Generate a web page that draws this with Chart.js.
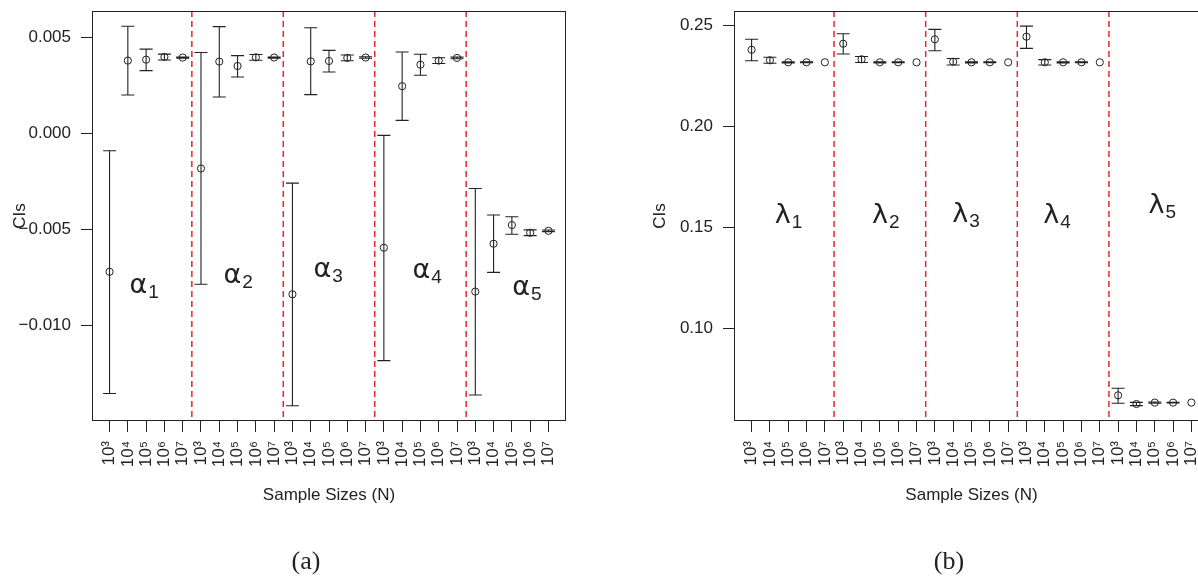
<!DOCTYPE html>
<html>
<head>
<meta charset="utf-8">
<script src="https://cdn.jsdelivr.net/npm/chart.js@4.4.1/dist/chart.umd.min.js"></script>
<style>
html, body { margin: 0; padding: 0; background: #fff; overflow: hidden; }
body { width: 1198px; height: 576px; position: relative; }
canvas { position: absolute; top: 0; }
#chartA { left: 0; }
#chartB { left: 620px; }
.caption { position: absolute; font-family: "Liberation Serif", "DejaVu Serif", serif; font-size: 26px; color: #222; transform: translate(-50%, -50%); }
</style>
</head>
<body>
<canvas id="chartA" width="600" height="576"></canvas>
<canvas id="chartB" width="620" height="576"></canvas>
<div class="caption" style="left:306px;top:561px">(a)</div>
<div class="caption" style="left:949px;top:561px">(b)</div>
<script>
// sample sizes repeated for each parameter block
const sampleSizes = ['10³', '10⁴', '10⁵', '10⁶', '10⁷'];
const xLabels = [].concat(sampleSizes, sampleSizes, sampleSizes, sampleSizes, sampleSizes);
const groupBreaks = [5.5, 10.5, 15.5, 20.5];

// (a) alpha estimates with CI bounds
const alphaEst = [
  -0.00719, 0.00379, 0.00384, 0.00398, 0.00395,
  -0.00182, 0.00374, 0.00351, 0.00396, 0.00395,
  -0.00836, 0.00375, 0.00377, 0.00393, 0.00395,
  -0.00594, 0.00246, 0.00358, 0.00379, 0.00393,
  -0.00822, -0.00573, -0.00476, -0.00516, -0.00506
];
const alphaLow = [
  -0.01352, 0.00200, 0.00327, 0.00382, 0.00392,
  -0.00784, 0.00190, 0.00294, 0.00381, 0.00392,
  -0.01416, 0.00202, 0.00320, 0.00378, 0.00391,
  -0.01181, 0.00068, 0.00303, 0.00364, 0.00389,
  -0.01360, -0.00722, -0.00524, -0.00531, -0.00510
];
const alphaHigh = [
  -0.00090, 0.00558, 0.00439, 0.00413, 0.00398,
  0.00421, 0.00556, 0.00405, 0.00411, 0.00398,
  -0.00258, 0.00550, 0.00432, 0.00408, 0.00399,
  -0.00010, 0.00424, 0.00412, 0.00394, 0.00397,
  -0.00286, -0.00424, -0.00433, -0.00501, -0.00502
];
const alphaTicks = [-0.010, -0.005, 0.000, 0.005];
const alphaRange = [-0.01495, 0.00637];
const alphaNames = [
  { t: 'α', s: '1', x: 2.09, y: -0.00829 },
  { t: 'α', s: '2', x: 7.23, y: -0.00777 },
  { t: 'α', s: '3', x: 12.15, y: -0.00746 },
  { t: 'α', s: '4', x: 17.56, y: -0.00751 },
  { t: 'α', s: '5', x: 23.02, y: -0.00840 }
];

// (b) lambda estimates with CI bounds
const lambdaEst = [
  0.2381, 0.2329, 0.2319, 0.2319, 0.2319,
  0.2411, 0.2334, 0.2319, 0.2319, 0.2319,
  0.2433, 0.2322, 0.2319, 0.2319, 0.2319,
  0.2446, 0.2319, 0.2319, 0.2319, 0.2319,
  0.0670, 0.0627, 0.0634, 0.0634, 0.0634
];
const lambdaLow = [
  0.2327, 0.2314, 0.2316, 0.2317, 0.2319,
  0.2360, 0.2318, 0.2316, 0.2317, 0.2319,
  0.2376, 0.2306, 0.2316, 0.2317, 0.2319,
  0.2388, 0.2306, 0.2316, 0.2317, 0.2319,
  0.0631, 0.0619, 0.0631, 0.0632, 0.0634
];
const lambdaHigh = [
  0.2433, 0.2344, 0.2322, 0.2321, 0.2319,
  0.2460, 0.2348, 0.2322, 0.2321, 0.2319,
  0.2482, 0.2338, 0.2322, 0.2321, 0.2319,
  0.2498, 0.2332, 0.2322, 0.2321, 0.2319,
  0.0705, 0.0635, 0.0637, 0.0636, 0.0634
];
const lambdaTicks = [0.10, 0.15, 0.20, 0.25];
const lambdaRange = [0.0543, 0.2573];
const lambdaNames = [
  { t: 'λ', s: '1', x: 2.27, y: 0.1523 },
  { t: 'λ', s: '2', x: 7.57, y: 0.1523 },
  { t: 'λ', s: '3', x: 11.95, y: 0.1528 },
  { t: 'λ', s: '4', x: 16.92, y: 0.1523 },
  { t: 'λ', s: '5', x: 22.66, y: 0.1573 }
];

const ink = '#222';
const font = { family: '"Liberation Sans", Arial, sans-serif', size: 17 };

function makePanel(id, est, low, high, yTicks, yRange, digits, names, yWidth, padRight, yTitlePad) {
    // error bars, group separators, box, greek labels
    const extras = {
        id: 'extras' + id,
        beforeDatasetsDraw(chart) {
            const { ctx, chartArea: a, scales: { x, y } } = chart;
            ctx.save();
            ctx.strokeStyle = '#e8262b';
            ctx.lineWidth = 1.5;
            ctx.setLineDash([6, 4]);
            groupBreaks.forEach(b => {
                const px = x.getPixelForValue(b);
                ctx.beginPath();
                ctx.moveTo(px, a.top);
                ctx.lineTo(px, a.bottom);
                ctx.stroke();
            });
            ctx.setLineDash([]);
            ctx.strokeStyle = ink;
            ctx.lineWidth = 1.1;
            low.forEach((lo, i) => {
                const px = x.getPixelForValue(i + 1);
                const y1 = y.getPixelForValue(lo), y2 = y.getPixelForValue(high[i]);
                if (Math.abs(y1 - y2) < 0.3) return;
                ctx.beginPath();
                ctx.moveTo(px, y1); ctx.lineTo(px, y2);
                ctx.moveTo(px - 6.5, y1); ctx.lineTo(px + 6.5, y1);
                ctx.moveTo(px - 6.5, y2); ctx.lineTo(px + 6.5, y2);
                ctx.stroke();
            });
            ctx.restore();
        },
        afterDatasetsDraw(chart) {
            const { ctx, chartArea: a, scales: { x, y } } = chart;
            ctx.save();
            ctx.strokeStyle = ink;
            ctx.lineWidth = 1;
            ctx.strokeRect(a.left + 0.5, a.top + 0.5, a.width - 1, a.height - 1);
            ctx.fillStyle = ink;
            ctx.textAlign = 'left';
            ctx.textBaseline = 'alphabetic';
            names.forEach(n => {
                const px = x.getPixelForValue(n.x), py = y.getPixelForValue(n.y);
                ctx.font = '27px "DejaVu Sans", sans-serif';
                ctx.fillText(n.t, px, py);
                const w = ctx.measureText(n.t).width;
                ctx.font = '19px "Liberation Sans", Arial, sans-serif';
                ctx.fillText(n.s, px + w + 1, py + 5);
            });
            ctx.restore();
        }
    };

    return new Chart(document.getElementById(id), {
        type: 'scatter',
        data: {
            datasets: [{
                data: est.map((v, i) => ({ x: i + 1, y: v })),
                pointStyle: 'circle',
                pointRadius: 3.6,
                borderWidth: 1,
                borderColor: ink,
                backgroundColor: 'rgba(0,0,0,0)'
            }]
        },
        options: {
            responsive: false,
            animation: false,
            devicePixelRatio: 1,
            layout: { padding: { left: 0, right: padRight, top: 11, bottom: 0 } },
            plugins: { legend: { display: false }, tooltip: { enabled: false } },
            scales: {
                x: {
                    type: 'linear',
                    min: 0.04,
                    max: 25.96,
                    afterBuildTicks: s => { s.ticks = xLabels.map((_, i) => ({ value: i + 1 })); },
                    afterFit: s => { s.height = 155; s.paddingLeft = 0; s.paddingRight = 0; },
                    ticks: {
                        autoSkip: false, minRotation: 90, maxRotation: 90, padding: 9,
                        font, color: ink,
                        callback: (v, i) => xLabels[i]
                    },
                    grid: { drawOnChartArea: false, tickLength: 11, color: ink },
                    border: { display: false },
                    title: { display: true, text: 'Sample Sizes (N)', font, color: ink, padding: { top: 0, bottom: 70 } }
                },
                y: {
                    type: 'linear',
                    min: yRange[0],
                    max: yRange[1],
                    afterBuildTicks: s => { s.ticks = yTicks.map(v => ({ value: v })); },
                    afterFit: s => { s.width = yWidth; s.paddingTop = 0; s.paddingBottom = 0; },
                    ticks: {
                        padding: 10, font, color: ink,
                        callback: v => v.toFixed(digits).replace('-', '−')
                    },
                    grid: { drawOnChartArea: false, tickLength: 11, color: ink },
                    border: { display: false },
                    title: { display: true, text: 'CIs', font, color: ink, padding: { top: yTitlePad, bottom: 0 } }
                }
            }
        },
        plugins: [extras]
    });
}

makePanel('chartA', alphaEst, alphaLow, alphaHigh, alphaTicks, alphaRange, 3, alphaNames, 92, 34, 10);
makePanel('chartB', lambdaEst, lambdaLow, lambdaHigh, lambdaTicks, lambdaRange, 2, lambdaNames, 114, 31, 30);
</script>
</body>
</html>
